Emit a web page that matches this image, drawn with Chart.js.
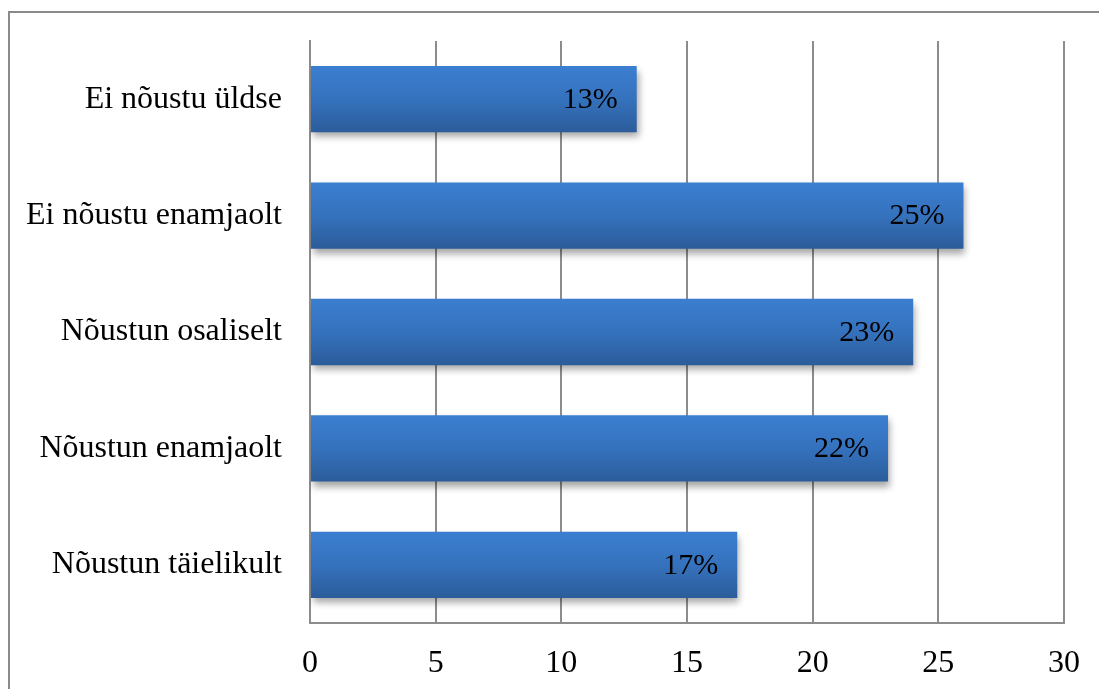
<!DOCTYPE html>
<html>
<head>
<meta charset="utf-8">
<script src="https://cdn.jsdelivr.net/npm/chart.js@4/dist/chart.umd.min.js"></script>
<style>
  html, body { margin: 0; padding: 0; background: #fff; overflow: hidden; }
  #frame { position: absolute; left: 8px; top: 11px; width: 1200px; height: 800px; border: 2px solid #8a8a8a; box-sizing: border-box; }
  #wrap { position: absolute; left: 0; top: 0; width: 1099px; height: 689px; }
</style>
</head>
<body>
<div id="frame"></div>
<div id="wrap"><canvas id="chartAccord"></canvas></div>
<script>
// data
const categories = ['Ei nõustu üldse', 'Ei nõustu enamjaolt', 'Nõustun osaliselt', 'Nõustun enamjaolt', 'Nõustun täielikult'];
const counts = [13, 26, 24, 23, 17];
const percentLabels = ['13%', '25%', '23%', '22%', '17%'];
const xTicks = [0, 5, 10, 15, 20, 25, 30];

const serif = '"Liberation Serif", "Times New Roman", serif';

// gradient per bar, top lighter -> bottom darker
function barGradient(context) {
  const chart = context.chart;
  if (!chart.chartArea || !chart.scales.y) return '#3470ba';
  const y = chart.scales.y;
  const center = y.getPixelForValue(context.dataIndex);
  const half = 33;
  const g = chart.ctx.createLinearGradient(0, center - half, 0, center + half);
  g.addColorStop(0, '#3b7ed0');
  g.addColorStop(0.5, '#3572bd');
  g.addColorStop(1, '#2b5c9a');
  return g;
}

// soft shadow under bars
const barShadow = {
  id: 'barShadow',
  beforeDatasetsDraw(chart) {
    const c = chart.ctx;
    c.save();
    c.shadowColor = 'rgba(0,0,0,0.35)';
    c.shadowBlur = 7;
    c.shadowOffsetX = 2;
    c.shadowOffsetY = 5;
  },
  afterDatasetsDraw(chart) {
    chart.ctx.restore();
    // value labels inside the bar end
    const c = chart.ctx;
    const meta = chart.getDatasetMeta(0);
    c.save();
    c.font = '30px ' + serif;
    c.fillStyle = '#000';
    c.textAlign = 'right';
    c.textBaseline = 'middle';
    meta.data.forEach(function (bar, i) {
      c.fillText(percentLabels[i], bar.x - 19, bar.y + 1);
    });
    c.restore();
  }
};

const ctx = document.getElementById('chartAccord');
new Chart(ctx.getContext('2d'), {
  type: 'bar',
  data: {
    labels: categories,
    datasets: [{
      data: counts,
      backgroundColor: barGradient,
      borderWidth: 0,
      categoryPercentage: 1,
      barPercentage: 0.57
    }]
  },
  options: {
    indexAxis: 'y',
    responsive: true,
    maintainAspectRatio: false,
    animation: false,
    layout: { padding: { top: 41, right: 35, left: 0, bottom: 0 } },
    plugins: {
      legend: { display: false },
      tooltip: { enabled: false }
    },
    scales: {
      x: {
        min: 0,
        max: 30,
        afterBuildTicks: function (axis) { axis.ticks = xTicks.map(v => ({ value: v })); },
        grid: { color: '#8c8c8c', lineWidth: 2, drawTicks: false },
        border: { color: '#8c8c8c', width: 2 },
        ticks: { color: '#000', font: { family: serif, size: 32 }, padding: 21, maxRotation: 0 },
        afterFit: function (axis) {
          axis.height = 66;
          axis.paddingLeft = 0;
          axis.paddingRight = 0;
        }
      },
      y: {
        grid: { display: false, drawTicks: false },
        border: { color: '#8c8c8c', width: 2 },
        ticks: { color: '#000', font: { family: serif, size: 32 }, padding: 28 },
        afterFit: function (axis) {
          axis.width = 310;
          axis.paddingTop = 0;
          axis.paddingBottom = 0;
        }
      }
    }
  },
  plugins: [barShadow]
});
</script>
</body>
</html>
